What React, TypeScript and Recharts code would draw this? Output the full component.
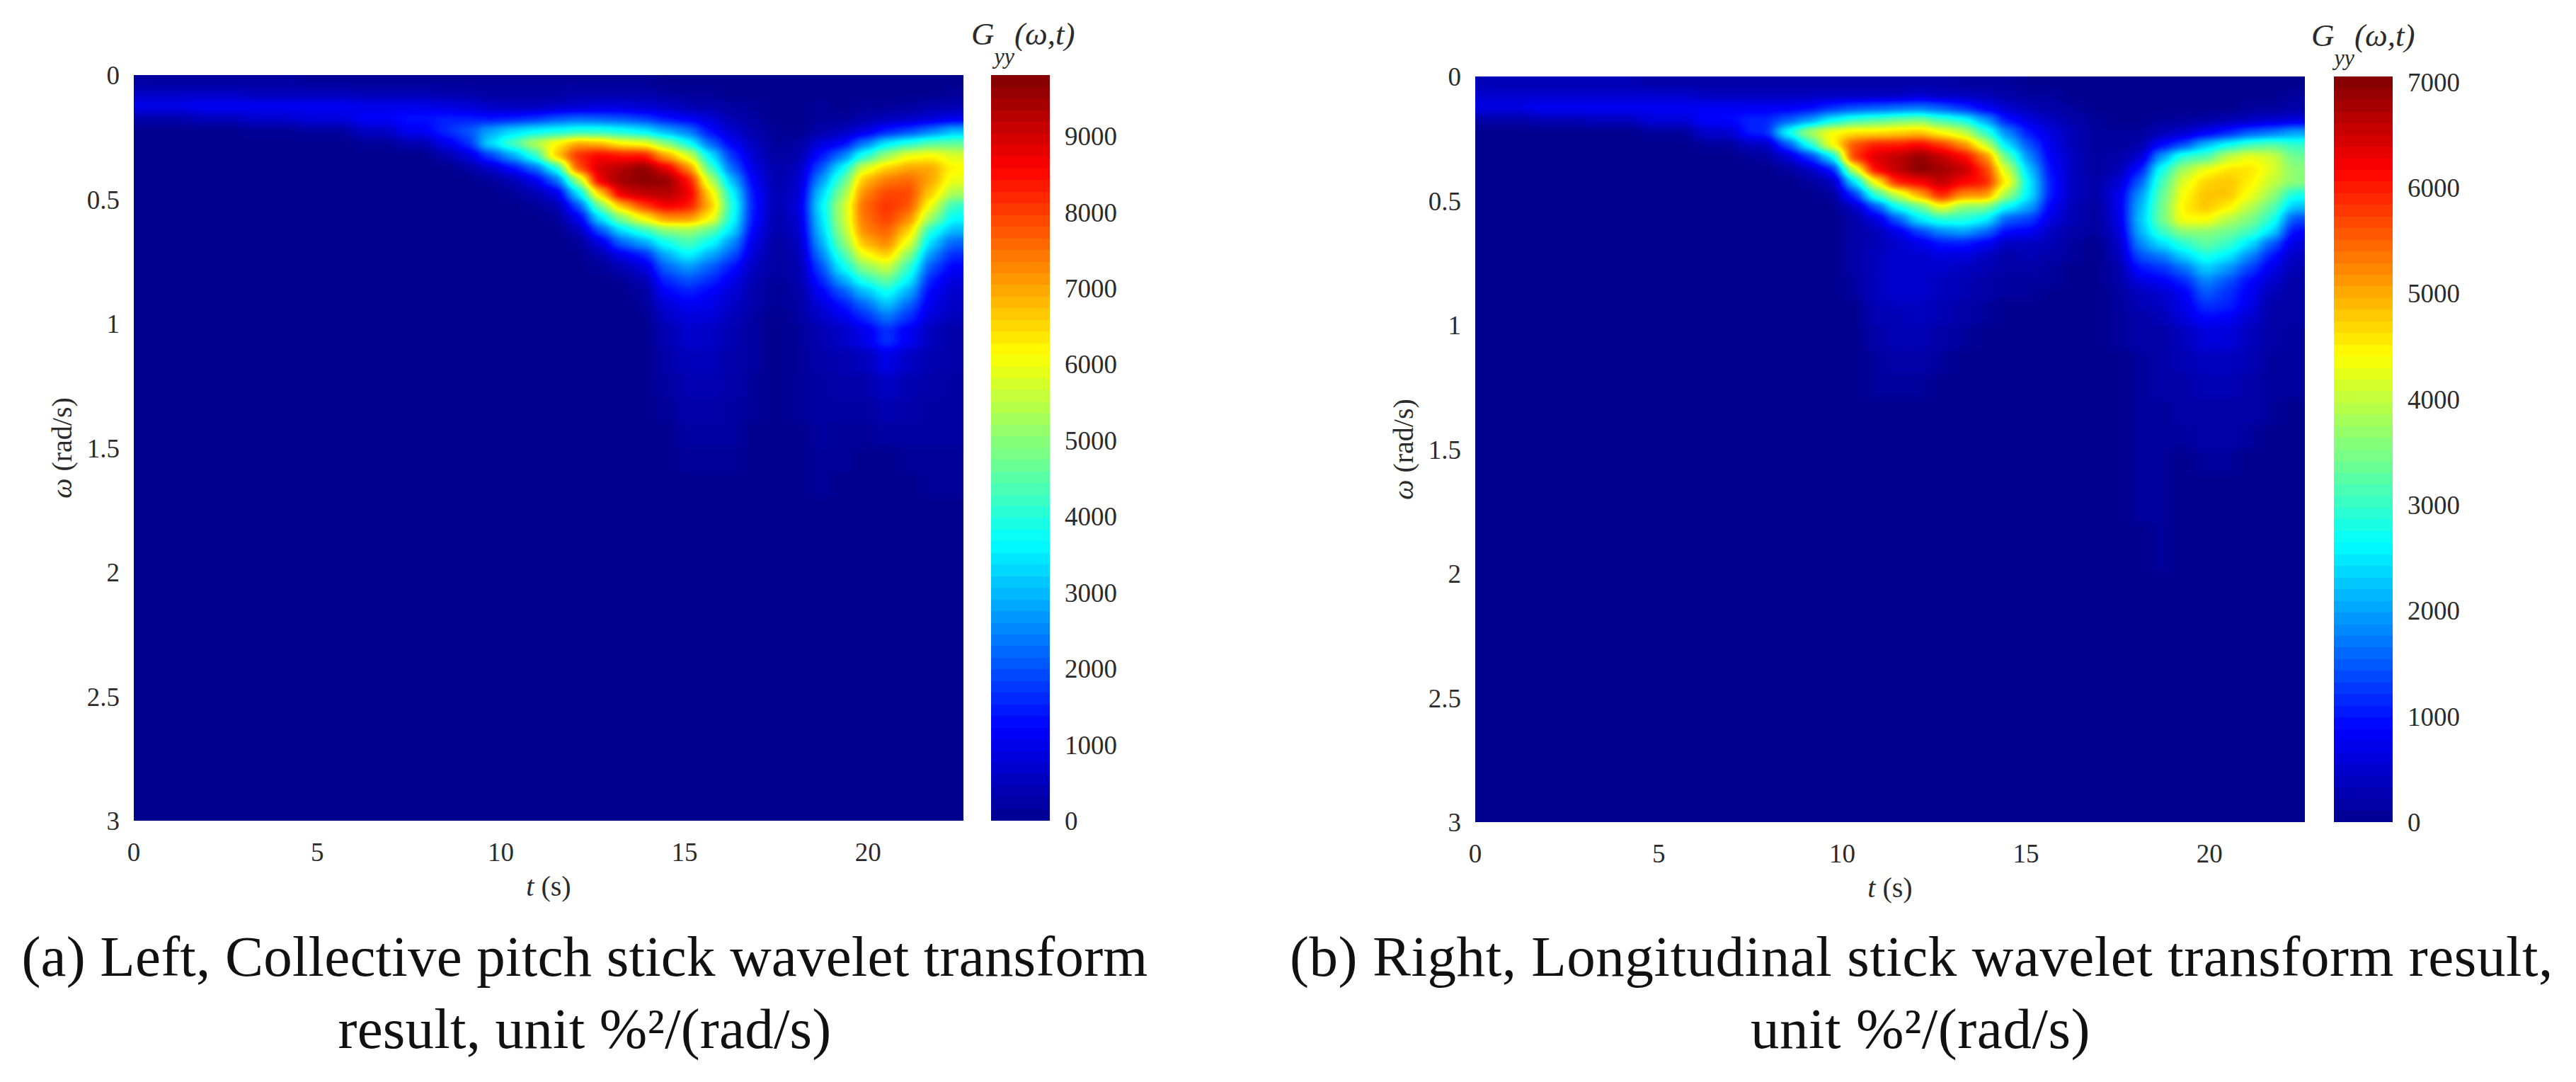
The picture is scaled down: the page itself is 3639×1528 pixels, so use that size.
import { Scatter, ScatterChart, XAxis, YAxis } from "recharts";

const SERIF = "'Liberation Serif', serif";
const TEXT = "#2b2b2b";
const PLOT_W = 1172;
const PLOT_H = 1053;
const T_MAX = 22.6;
const W_MAX = 3;

const tTicks = [0, 5, 10, 15, 20];
const wTicks = [0, 0.5, 1, 1.5, 2, 2.5, 3];
const collectiveTicks = [0, 1000, 2000, 3000, 4000, 5000, 6000, 7000, 8000, 9000];
const longitudinalTicks = [0, 1000, 2000, 3000, 4000, 5000, 6000, 7000];
const collectiveMax = 9800;
const longitudinalMax = 7050;

// cell edges of the two grids below, finer around the two energy blobs
const tEdges = [
  0, 1.5, 3, 4.5, 6, 7.2, 8.2, 8.8, 9.4, 10, 10.6, 11.2, 11.8, 12.4, 13, 13.6, 14.2, 14.8, 15.4, 16, 16.6, 17.2, 17.8,
  18.4, 19, 19.6, 20.2, 20.8, 21.4, 22, 22.6,
];
const wEdges = [
  0, 0.05, 0.1, 0.15, 0.2, 0.25, 0.3, 0.35, 0.4, 0.45, 0.5, 0.55, 0.6, 0.65, 0.7, 0.75, 0.8, 0.85, 0.9, 0.95, 1, 1.1,
  1.2, 1.3, 1.4, 1.5, 1.6, 1.7, 1.8, 1.9, 2, 3,
];

// values in hundreds, one line per time column, top of the plot first; missing rows are 0
const collectiveGrid = [
  [2, 6, 10, 3],
  [2, 6, 11, 5],
  [2, 5, 11, 7, 1],
  [1, 5, 11, 9, 2],
  [1, 4, 10, 12, 6, 1],
  [1, 4, 10, 14, 11, 4],
  [1, 3, 9, 15, 16, 10, 3],
  [1, 3, 8, 15, 20, 16, 8, 2],
  [1, 2, 6, 14, 28, 34, 18, 6, 1],
  [1, 2, 5, 15, 33, 44, 28, 13, 4, 1],
  [1, 2, 5, 17, 36, 54, 40, 22, 10, 4, 1],
  [1, 2, 6, 20, 38, 62, 66, 38, 22, 9, 3, 1],
  [1, 3, 7, 22, 40, 70, 82, 78, 52, 34, 20, 10, 4, 1],
  [1, 3, 8, 21, 40, 68, 86, 90, 88, 66, 48, 34, 20, 9, 3, 1],
  [1, 3, 8, 20, 38, 62, 84, 93, 95, 89, 68, 50, 34, 22, 10, 4, 1],
  [1, 3, 7, 18, 35, 60, 84, 97, 97, 92, 80, 62, 42, 28, 15, 8, 4, 2, 1],
  [0, 2, 6, 14, 29, 50, 70, 88, 96, 93, 87, 72, 50, 38, 29, 22, 16, 12, 8, 6, 4, 3, 2, 1],
  [0, 1, 4, 11, 24, 38, 58, 73, 85, 88, 84, 72, 52, 44, 36, 27, 20, 15, 11, 9, 7, 5, 4, 3, 2, 1],
  [0, 1, 3, 8, 13, 22, 35, 44, 55, 64, 68, 62, 46, 37, 29, 21, 16, 12, 10, 8, 6, 5, 4, 3, 2, 1],
  [0, 0, 2, 4, 7, 11, 17, 22, 30, 37, 40, 38, 34, 26, 20, 14, 10, 8, 6, 5, 4, 3, 3, 2, 2, 1],
  [0, 0, 1, 2, 3, 5, 7, 9, 11, 13, 14, 13, 11, 9, 7, 5, 4, 3, 3, 2, 2, 2, 1, 1],
  [0, 0, 0, 0, 1, 1, 2, 3, 3, 4, 4, 3, 3, 2, 2, 2, 1, 1, 1],
  [0, 0, 0, 0, 0, 2, 3, 5, 6, 7, 8, 7, 6, 5, 4, 3, 3, 2, 2, 2, 1, 1, 1, 1],
  [0, 0, 1, 1, 3, 8, 14, 20, 26, 32, 35, 33, 31, 28, 24, 19, 15, 11, 8, 6, 4, 3, 2, 2, 2, 1, 1],
  [0, 0, 0, 1, 5, 12, 24, 36, 44, 50, 54, 54, 52, 48, 42, 36, 28, 20, 14, 10, 6, 4, 3, 2, 1, 1],
  [0, 0, 1, 3, 9, 24, 40, 58, 68, 73, 76, 75, 73, 68, 60, 50, 40, 30, 22, 16, 10, 5, 3, 2, 1],
  [0, 0, 1, 5, 15, 35, 52, 66, 74, 79, 81, 80, 77, 73, 66, 56, 47, 38, 31, 24, 17, 10, 6, 4, 2],
  [0, 0, 2, 6, 19, 40, 60, 70, 76, 79, 78, 73, 66, 59, 50, 42, 36, 29, 22, 17, 11, 6, 4, 3, 2, 1],
  [0, 0, 3, 8, 24, 45, 62, 70, 70, 66, 60, 52, 40, 33, 26, 20, 15, 12, 10, 8, 5, 4, 3, 2, 2, 1, 1],
  [0, 1, 4, 10, 30, 46, 58, 62, 59, 53, 42, 37, 30, 22, 16, 12, 9, 7, 6, 5, 3, 3, 2, 2, 2, 1, 1],
];

const longitudinalGrid = [
  [3, 5, 7, 2],
  [3, 5, 8, 3],
  [3, 5, 8, 4],
  [2, 5, 8, 6, 1],
  [2, 4, 8, 9, 5, 1],
  [2, 4, 8, 11, 11, 4, 1],
  [2, 4, 8, 15, 27, 14, 5, 1],
  [2, 4, 9, 19, 38, 28, 12, 4, 1],
  [2, 4, 12, 26, 44, 44, 24, 10, 3, 1],
  [2, 4, 14, 30, 46, 56, 58, 40, 24, 12, 4, 2, 2, 2, 2, 2, 1, 1],
  [2, 4, 15, 32, 46, 60, 64, 62, 44, 30, 14, 6, 3, 3, 4, 4, 4, 4, 3, 3, 2, 1, 1],
  [2, 4, 16, 34, 47, 60, 66, 66, 60, 40, 27, 15, 7, 5, 5, 5, 5, 5, 4, 3, 3, 2, 1],
  [2, 5, 17, 35, 48, 62, 69, 70, 62, 50, 33, 25, 13, 7, 5, 5, 5, 5, 4, 4, 3, 2, 1],
  [2, 4, 15, 31, 44, 58, 66, 68, 66, 60, 43, 29, 18, 10, 6, 5, 4, 4, 3, 3, 2, 1],
  [1, 4, 12, 28, 40, 52, 62, 66, 62, 52, 36, 29, 20, 10, 6, 4, 3, 3, 2, 2, 1],
  [1, 3, 8, 20, 30, 41, 53, 58, 60, 52, 35, 26, 16, 8, 4, 3, 2, 2, 1, 1],
  [1, 2, 5, 10, 18, 24, 33, 40, 44, 37, 26, 15, 9, 4, 2, 2, 1, 1],
  [0, 1, 3, 6, 10, 14, 18, 22, 25, 25, 20, 13, 8, 4, 3, 2, 1, 1],
  [0, 1, 2, 4, 6, 7, 8, 9, 10, 10, 8, 6, 4, 3, 2, 1, 1],
  [0, 0, 1, 2, 3, 3, 4, 4, 4, 4, 3, 3, 2, 1, 1],
  [0, 0, 0, 1, 1, 1, 1, 1, 2, 2, 1, 1, 1],
  [0, 0, 0, 0, 1, 1, 2, 3, 5, 7, 7, 6, 5, 4, 3, 2, 2, 1, 1, 1, 1],
  [0, 0, 0, 0, 1, 2, 5, 10, 15, 19, 21, 22, 21, 18, 14, 10, 6, 4, 3, 2, 2, 1, 1, 1, 1, 1, 1, 1],
  [0, 0, 0, 1, 3, 9, 20, 28, 31, 33, 34, 34, 30, 24, 17, 12, 8, 5, 4, 3, 2, 2, 2, 1, 1, 1, 1, 1, 1, 1],
  [0, 0, 0, 1, 5, 14, 30, 38, 42, 44, 45, 44, 36, 29, 23, 16, 11, 8, 7, 6, 4, 3, 2, 2, 1],
  [0, 0, 0, 2, 8, 22, 32, 43, 47, 48, 48, 44, 36, 33, 28, 23, 18, 15, 12, 9, 6, 4, 3, 2, 2, 1],
  [0, 0, 0, 3, 11, 27, 40, 46, 48, 48, 45, 39, 34, 30, 25, 19, 14, 12, 11, 8, 6, 4, 3, 2, 2, 1],
  [0, 0, 1, 4, 15, 31, 43, 46, 45, 43, 39, 35, 31, 24, 18, 13, 9, 8, 7, 5, 4, 3, 2, 2, 1],
  [0, 0, 1, 5, 17, 33, 41, 42, 40, 37, 33, 29, 24, 15, 10, 7, 5, 3, 2, 2, 2, 1, 1, 1],
  [0, 1, 2, 6, 20, 30, 34, 36, 36, 28, 22, 14, 9, 6, 4, 3, 2, 2, 2, 2, 1, 1, 1],
];

const mid = (edges: number[], i: number) => (edges[i] + edges[i + 1]) / 2;

function buildCells(grid: number[][]) {
  return grid.flatMap((column, c) =>
    wEdges.slice(1).map((_, r) => ({
      t: mid(tEdges, c),
      w: mid(wEdges, r),
      value: (column[r] ?? 0) * 100,
      tSpan: tEdges[c + 1] - tEdges[c],
      wSpan: wEdges[r + 1] - wEdges[r],
    }))
  );
}

const gray = (ratio: number) => {
  const g = Math.round(255 * Math.min(1, ratio));
  return `rgb(${g},${g},${g})`;
};

// cells are painted as grey levels, the jetBlur / jetFlat filters turn those into the jet colormap
const JetTable = () => (
  <>
    <feFuncR type="table" tableValues="0 0 0 0 0.5 1 1 1 0.5" />
    <feFuncG type="table" tableValues="0 0 0.5 1 1 1 0.5 0 0" />
    <feFuncB type="table" tableValues="0.5625 1 1 1 0.5 0 0 0 0" />
    <feFuncA type="linear" slope="40" />
  </>
);

function Panel({ left, top, grid, max }: { left: number; top: number; grid: number[][]; max: number }) {
  const cells = buildCells(grid);
  return (
    <div className="heat" style={{ position: "absolute", left, top }}>
      <ScatterChart width={1400} height={1300} margin={{ top: 106, left: 89, right: 39, bottom: 81 }}>
        <XAxis
          type="number"
          dataKey="t"
          domain={[0, T_MAX]}
          ticks={tTicks}
          interval={0}
          height={60}
          axisLine={false}
          tickLine={false}
          tickMargin={25}
          tick={{ fontSize: 37, fontFamily: SERIF, fill: TEXT }}
          label={{
            content: ({ viewBox }: any) => (
              <text x={viewBox.x + viewBox.width / 2} y={viewBox.y + 106} textAnchor="middle" fontSize={40} fontFamily={SERIF} fill={TEXT}>
                <tspan fontStyle="italic">t</tspan> (s)
              </text>
            ),
          }}
        />
        <YAxis
          type="number"
          dataKey="w"
          domain={[0, W_MAX]}
          reversed
          ticks={wTicks}
          interval={0}
          width={100}
          axisLine={false}
          tickLine={false}
          tickMargin={14}
          tick={{ fontSize: 37, fontFamily: SERIF, fill: TEXT }}
          label={{
            content: ({ viewBox }: any) => {
              const cy = viewBox.y + viewBox.height / 2;
              return (
                <text x={101} y={cy} transform={`rotate(-90 101 ${cy})`} textAnchor="middle" fontSize={40} fontFamily={SERIF} fill={TEXT}>
                  <tspan fontStyle="italic">ω</tspan> (rad/s)
                </text>
              );
            },
          }}
        />
        <Scatter
          data={cells}
          isAnimationActive={false}
          shape={(p: any) => {
            const w = (p.payload.tSpan / T_MAX) * PLOT_W;
            const h = (p.payload.wSpan / W_MAX) * PLOT_H;
            return (
              <rect
                x={p.cx - w / 2}
                y={p.cy - h / 2}
                width={w}
                height={h}
                fill={gray(p.payload.value / max)}
                shapeRendering="crispEdges"
              />
            );
          }}
        />
      </ScatterChart>
    </div>
  );
}

function ColorBar({
  left,
  top,
  max,
  ticks,
  titleX,
}: {
  left: number;
  top: number;
  max: number;
  ticks: number[];
  titleX: number;
}) {
  const levels = Array.from({ length: 64 }, (_, i) => ({ x: 0.5, level: ((i + 0.5) / 64) * max }));
  return (
    <div className="bar" style={{ position: "absolute", left, top }}>
      <ScatterChart width={243} height={1200} margin={{ top: 106, left: 60, right: 0, bottom: 41 }}>
        <XAxis type="number" dataKey="x" domain={[0, 1]} hide />
        <YAxis
          type="number"
          dataKey="level"
          orientation="right"
          domain={[0, max]}
          ticks={ticks}
          interval={0}
          width={100}
          axisLine={false}
          tickLine={false}
          tickMargin={15}
          tick={{ fontSize: 37, fontFamily: SERIF, fill: TEXT }}
        />
        <Scatter
          data={levels}
          isAnimationActive={false}
          shape={(p: any) => {
            const h = PLOT_H / 64 + 0.5;
            return (
              <rect x={p.cx - 41.5} y={p.cy - h / 2} width={83} height={h} fill={gray(p.payload.level / max)} shapeRendering="crispEdges" />
            );
          }}
        />
        <text x={titleX} y={63} fontFamily={SERIF} fontSize={45} fill={TEXT} fontStyle="italic">
          G
          <tspan dy={27} fontSize={32}>
            yy
          </tspan>
          <tspan dy={-27}>
            {"("}ω,t{")"}
          </tspan>
        </text>
      </ScatterChart>
    </div>
  );
}

function Caption({
  left,
  width,
  top,
  spacing,
  lines,
}: {
  left: number;
  width: number;
  top: number;
  spacing: number;
  lines: string[];
}) {
  return (
    <div
      style={{
        position: "absolute",
        left,
        top,
        width,
        textAlign: "center",
        fontFamily: SERIF,
        fontSize: 81,
        letterSpacing: spacing,
        lineHeight: "102px",
        color: "#111",
        whiteSpace: "nowrap",
      }}
    >
      {lines.map((line) => (
        <div key={line}>{line}</div>
      ))}
    </div>
  );
}

export default function App() {
  return (
    <div style={{ position: "absolute", left: 0, top: 0, width: 3639, height: 1528, background: "#fff", overflow: "hidden" }}>
      <style>{`
        .heat .recharts-scatter { filter: url(#jetBlur); }
        .bar .recharts-scatter { filter: url(#jetFlat); }
      `}</style>
      <svg width={0} height={0} style={{ position: "absolute" }}>
        <defs>
          <filter id="jetBlur" x="0" y="0" width="1" height="1" colorInterpolationFilters="sRGB">
            <feGaussianBlur stdDeviation="10 6" />
            <feComponentTransfer>
              <JetTable />
            </feComponentTransfer>
          </filter>
          <filter id="jetFlat" x="0" y="0" width="1" height="1" colorInterpolationFilters="sRGB">
            <feComponentTransfer>
              <JetTable />
            </feComponentTransfer>
          </filter>
        </defs>
      </svg>
      <Panel left={0} top={0} grid={collectiveGrid} max={collectiveMax} />
      <ColorBar left={1340} top={0} max={collectiveMax} ticks={collectiveTicks} titleX={32} />
      <Panel left={1895} top={2} grid={longitudinalGrid} max={longitudinalMax} />
      <ColorBar left={3237} top={2} max={longitudinalMax} ticks={longitudinalTicks} titleX={28} />
      <Caption left={0} width={1652} top={1300} spacing={0.2} lines={["(a) Left, Collective pitch stick wavelet transform", "result, unit %²/(rad/s)"]} />
      <Caption left={1822} width={1782} top={1300} spacing={0.55} lines={["(b) Right, Longitudinal stick wavelet transform result,", "unit %²/(rad/s)"]} />
    </div>
  );
}
